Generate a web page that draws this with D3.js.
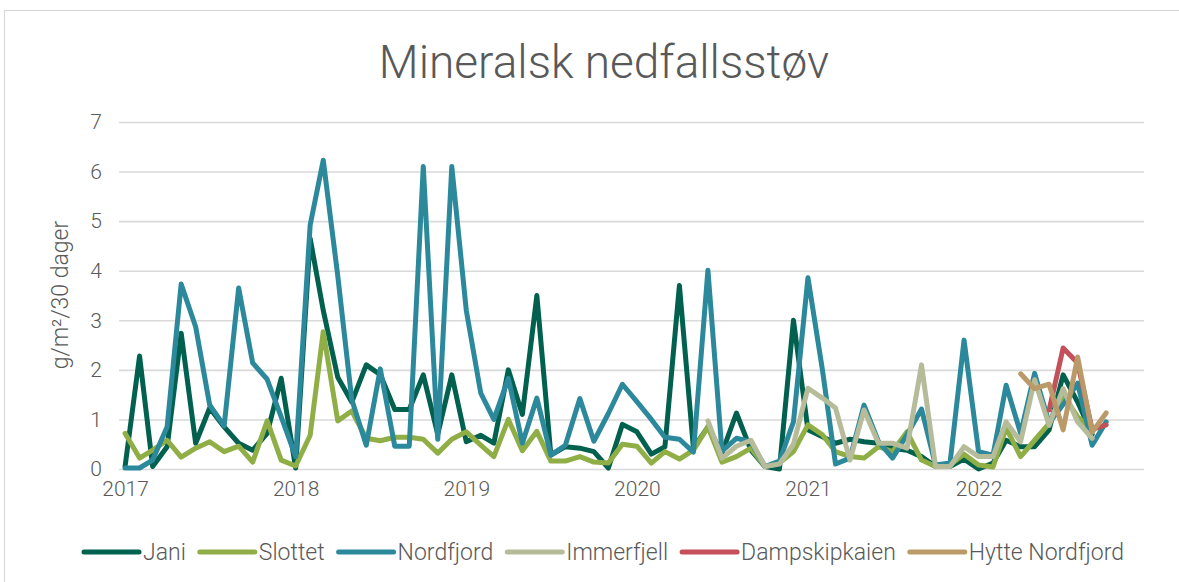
<!DOCTYPE html>
<html>
<head>
<meta charset="utf-8">
<script src="https://cdn.jsdelivr.net/npm/d3@7"></script>
<style>
  body { margin: 0; background: #fff; }
  text { font-family: Roboto, "Open Sans", sans-serif; fill: #595959; }
</style>
</head>
<body>
<div id="chart"></div>
<script>
// monthly values, g/m2/30 dager
const firstMonth = new Date(2017, 0, 1);
const jani = [
  0.05, 2.28, 0.05, 0.45, 2.74, 0.52, 1.23, 0.85, 0.52, 0.38, 0.72, 1.83,
  0.02, 4.65, 3.2, 1.85, 1.35, 2.1, 1.9, 1.2, 1.2, 1.9, 0.7, 1.9,
  0.55, 0.68, 0.52, 2.0, 1.1, 3.5, 0.28, 0.45, 0.42, 0.35, 0.02, 0.9,
  0.75, 0.3, 0.45, 3.7, 0.42, 0.85, 0.32, 1.13, 0.38, 0.05, 0.0, 3.0,
  0.79, 0.65, 0.52, 0.6, 0.55, 0.52, 0.42, 0.38, 0.25, 0.05, 0.05, 0.2,
  0.0, 0.12, 0.58, 0.45, 0.45, 0.79, 1.9, 1.35, 0.7
];
const slottet = [
  0.72, 0.22, 0.38, 0.58, 0.24, 0.42, 0.55, 0.35, 0.46, 0.14, 0.97, 0.18,
  0.06, 0.68, 2.77, 0.97, 1.17, 0.62, 0.57, 0.64, 0.64, 0.6, 0.32, 0.6,
  0.75, 0.48, 0.25, 1.0, 0.37, 0.76, 0.16, 0.16, 0.25, 0.14, 0.12, 0.5,
  0.46, 0.12, 0.35, 0.2, 0.38, 0.85, 0.14, 0.25, 0.42, 0.05, 0.12, 0.35,
  0.89, 0.69, 0.35, 0.25, 0.22, 0.45, 0.35, 0.75, 0.18, 0.05, 0.08, 0.3,
  0.08, 0.04, 0.83, 0.25, 0.58, 0.92, 1.5, 1.05, 0.8
];
const nordfjord = [
  0.02, 0.02, 0.18, 0.85, 3.73, 2.87, 1.29, 0.87, 3.65, 2.14, 1.81, 1.05,
  0.25, 4.92, 6.23, 3.9, 1.4, 0.48, 2.02, 0.46, 0.46, 6.1, 0.6, 6.1,
  3.2, 1.53, 1.0, 1.83, 0.52, 1.43, 0.28, 0.48, 1.42, 0.56, 1.12, 1.71,
  1.36, 1.0, 0.64, 0.6, 0.34, 4.01, 0.36, 0.62, 0.55, 0.05, 0.16, 0.95,
  3.86, 2.0, 0.1, 0.22, 1.29, 0.55, 0.22, 0.69, 1.21, 0.08, 0.12, 2.6,
  0.35, 0.28, 1.69, 0.72, 1.93, 0.93, 1.3, 1.73, 0.48, 0.95
];
const immerfjellStart = new Date(2020, 5, 1);
const immerfjell = [
  0.97, 0.22, 0.46, 0.58, 0.05, 0.1, 0.5,
  1.63, 1.43, 1.23, 0.18, 1.19, 0.52, 0.52, 0.42, 2.1, 0.05, 0.05, 0.45,
  0.25, 0.25, 0.95, 0.55, 1.8, 0.88, 1.62, 0.95, 0.62
];
const dampskipkaienStart = new Date(2022, 5, 1);
const dampskipkaien = [1.19, 2.44, 2.14, 0.8, 0.89];
const hytteStart = new Date(2022, 3, 1);
const hytteNordfjord = [1.92, 1.62, 1.71, 0.79, 2.26, 0.74, 1.13];

const yTicks = [0, 1, 2, 3, 4, 5, 6, 7];
const xTickYears = [2017, 2018, 2019, 2020, 2021, 2022];

const seriesNames = ["Jani", "Slottet", "Nordfjord", "Immerfjell", "Dampskipkaien", "Hytte Nordfjord"];
const seriesColors = ["#02604e", "#8fae46", "#2b899b", "#b6bc9a", "#c4505a", "#b99a68"];
const seriesStarts = [firstMonth, firstMonth, firstMonth, immerfjellStart, dampskipkaienStart, hytteStart];
const seriesValues = [jani, slottet, nordfjord, immerfjell, dampskipkaien, hytteNordfjord];

// turn value lists into {date, value}
const series = seriesNames.map((name, k) => ({
  name: name,
  color: seriesColors[k],
  points: seriesValues[k].map((v, i) => ({
    date: d3.timeMonth.offset(seriesStarts[k], i),
    value: v
  }))
}));

const W = 1179, H = 582;
const plot = { left: 119, right: 1144, top: 122, bottom: 469 };

const svg = d3.select("#chart")
  .append("svg")
  .attr("width", W)
  .attr("height", H);

// chart frame, cropped on the right and bottom like the original
svg.append("rect")
  .attr("x", 4.5).attr("y", 10.5)
  .attr("width", 1300).attr("height", 700)
  .attr("fill", "none")
  .attr("stroke", "#d9d9d9")
  .attr("stroke-width", 1.2);

const x = d3.scaleTime()
  .domain([new Date(2016, 11, 19), new Date(2022, 11, 21)])
  .range([plot.left, plot.right]);

const y = d3.scaleLinear()
  .domain([0, 7])
  .range([plot.bottom, plot.top]);

// gridlines + y labels
const yAxis = svg.append("g")
  .attr("transform", `translate(${plot.left},0)`)
  .call(d3.axisLeft(y)
    .tickValues(yTicks)
    .tickFormat(d3.format("d"))
    .tickSize(-(plot.right - plot.left))
    .tickPadding(17));
yAxis.select(".domain").remove();
yAxis.selectAll(".tick line").attr("stroke", "#d9d9d9").attr("stroke-width", 1.6);
yAxis.selectAll(".tick text")
  .attr("font-size", 21)
  .attr("font-weight", 300)
  .style("font-family", "Roboto, sans-serif")
  .attr("fill", "#595959");

// x labels
const xAxis = svg.append("g")
  .attr("transform", `translate(0,${plot.bottom})`)
  .call(d3.axisBottom(x)
    .tickValues(xTickYears.map(yr => new Date(yr, 0, 1)))
    .tickFormat(d3.timeFormat("%Y"))
    .tickSize(0)
    .tickPadding(12));
xAxis.select(".domain").remove();
xAxis.selectAll(".tick text")
  .attr("font-size", 21)
  .attr("font-weight", 300)
  .style("font-family", "Roboto, sans-serif")
  .attr("fill", "#595959");

// lines
const line = d3.line()
  .x(d => x(d.date))
  .y(d => y(d.value));

svg.append("g")
  .selectAll("path")
  .data(series)
  .join("path")
  .attr("fill", "none")
  .attr("stroke", d => d.color)
  .attr("stroke-width", 5)
  .attr("stroke-linejoin", "round")
  .attr("stroke-linecap", "round")
  .attr("d", d => line(d.points));

// title
svg.append("text")
  .attr("x", 604)
  .attr("y", 78)
  .attr("text-anchor", "middle")
  .attr("font-size", 46)
  .attr("font-weight", 300)
  .text("Mineralsk nedfallsstøv");

// y axis title
svg.append("text")
  .attr("transform", "translate(68,295) rotate(-90)")
  .attr("text-anchor", "middle")
  .attr("font-size", 23)
  .attr("font-weight", 300)
  .text("g/m²/30 dager");

// legend, centred under the plot
const legend = svg.append("g");
const sampleLen = 55, sampleGap = 4, itemGap = 14;
const items = legend.selectAll("g")
  .data(series)
  .join("g");
items.append("line")
  .attr("x1", 0).attr("x2", sampleLen)
  .attr("y1", 0).attr("y2", 0)
  .attr("stroke", d => d.color)
  .attr("stroke-width", 5)
  .attr("stroke-linecap", "round");
items.append("text")
  .attr("x", sampleLen + sampleGap)
  .attr("y", 8)
  .attr("font-size", 23)
  .attr("font-weight", 300)
  .text(d => d.name);

let pos = 0;
items.each(function () {
  const g = d3.select(this);
  const w = sampleLen + sampleGap + g.select("text").node().getComputedTextLength();
  g.attr("data-x", pos);
  pos += w + itemGap;
});
const totalW = pos - itemGap;
const legendLeft = 604 - totalW / 2;
items.attr("transform", function () {
  return `translate(${legendLeft + +this.getAttribute("data-x")},552)`;
});
</script>
</body>
</html>
